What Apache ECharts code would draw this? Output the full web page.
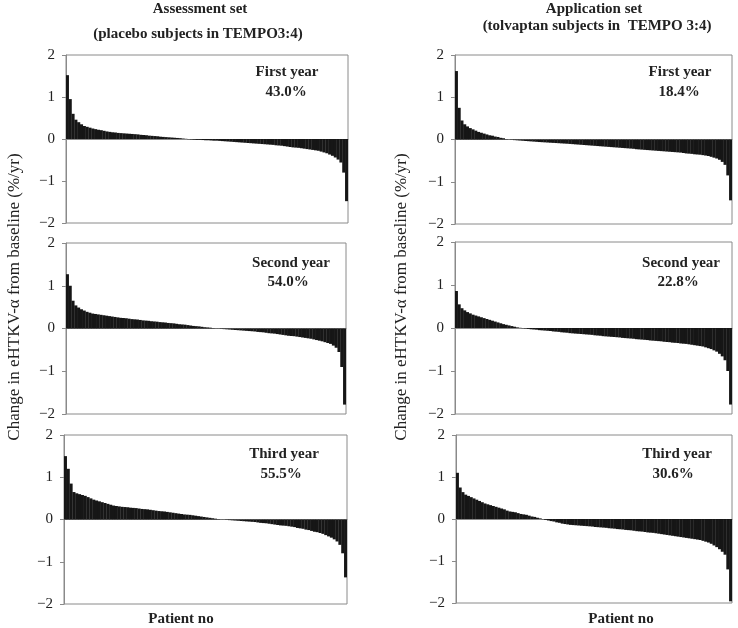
<!DOCTYPE html>
<html><head><meta charset="utf-8">
<script src="https://cdn.jsdelivr.net/npm/echarts@6/dist/echarts.min.js"></script>
<style>html,body{margin:0;padding:0;background:#fff}#c{width:738px;height:628px}</style>
</head><body><div id="c"></div>
<script>
// Sorted per-patient change values (%/yr)
const assessYear1 = [1.52,0.95,0.6,0.46,0.40,0.35,0.31,0.29,0.27,0.25,
0.235,0.22,0.21,0.195,0.18,0.17,0.16,0.155,0.145,0.14,
0.135,0.13,0.125,0.12,0.115,0.11,0.10,0.095,0.09,0.08,
0.075,0.07,0.065,0.055,0.05,0.045,0.04,0.035,0.03,0.025,
0.02,0.012,0.005,-0.005,-0.01,-0.015,-0.02,-0.02,-0.025,-0.03,
-0.03,-0.035,-0.04,-0.04,-0.045,-0.05,-0.055,-0.06,-0.065,-0.07,
-0.075,-0.08,-0.085,-0.09,-0.095,-0.10,-0.105,-0.11,-0.115,-0.12,
-0.125,-0.13,-0.135,-0.14,-0.15,-0.155,-0.16,-0.17,-0.18,-0.19,
-0.20,-0.205,-0.21,-0.22,-0.23,-0.24,-0.25,-0.26,-0.27,-0.28,
-0.30,-0.32,-0.34,-0.37,-0.40,-0.44,-0.49,-0.56,-0.80,-1.48];

const assessYear2 = [1.27,1.0,0.65,0.54,0.49,0.45,0.42,0.39,0.37,0.35,
0.34,0.33,0.32,0.31,0.30,0.29,0.28,0.27,0.26,0.25,
0.245,0.24,0.23,0.22,0.215,0.21,0.20,0.19,0.185,0.18,
0.17,0.165,0.16,0.15,0.145,0.14,0.13,0.125,0.12,0.11,
0.10,0.095,0.09,0.08,0.07,0.06,0.055,0.05,0.04,0.03,
0.025,0.02,0.01,0.005,-0.005,-0.01,-0.015,-0.02,-0.025,-0.03,
-0.035,-0.04,-0.045,-0.05,-0.055,-0.06,-0.065,-0.07,-0.08,-0.085,
-0.09,-0.10,-0.11,-0.115,-0.12,-0.13,-0.14,-0.15,-0.16,-0.17,
-0.175,-0.18,-0.19,-0.20,-0.21,-0.22,-0.23,-0.24,-0.255,-0.27,
-0.285,-0.30,-0.32,-0.34,-0.36,-0.40,-0.45,-0.55,-0.90,-1.78];

const assessYear3 = [1.5,1.2,0.85,0.65,0.62,0.60,0.58,0.56,0.53,0.50,
0.47,0.45,0.43,0.41,0.39,0.37,0.35,0.33,0.32,0.31,
0.30,0.295,0.29,0.28,0.275,0.27,0.26,0.25,0.245,0.24,
0.23,0.22,0.21,0.20,0.195,0.19,0.18,0.17,0.16,0.15,
0.14,0.13,0.12,0.115,0.11,0.10,0.09,0.08,0.07,0.06,
0.05,0.04,0.03,0.02,0.01,0.005,-0.005,-0.01,-0.015,-0.02,
-0.025,-0.03,-0.035,-0.04,-0.045,-0.05,-0.055,-0.06,-0.07,-0.08,
-0.085,-0.09,-0.10,-0.11,-0.12,-0.13,-0.14,-0.145,-0.15,-0.16,
-0.17,-0.18,-0.20,-0.21,-0.22,-0.24,-0.25,-0.27,-0.29,-0.30,
-0.32,-0.34,-0.37,-0.40,-0.43,-0.47,-0.52,-0.60,-0.80,-1.37];

const applYear1 = [1.62,0.75,0.45,0.36,0.31,0.27,0.24,0.21,0.18,0.16,
0.14,0.12,0.10,0.09,0.07,0.06,0.04,0.03,0.01,-0.005,
-0.01,-0.015,-0.02,-0.025,-0.03,-0.035,-0.04,-0.045,-0.05,-0.055,
-0.06,-0.064,-0.068,-0.072,-0.076,-0.08,-0.084,-0.088,-0.092,-0.096,
-0.10,-0.105,-0.11,-0.115,-0.12,-0.125,-0.13,-0.135,-0.14,-0.145,
-0.15,-0.155,-0.16,-0.165,-0.17,-0.175,-0.18,-0.185,-0.19,-0.195,
-0.20,-0.205,-0.21,-0.215,-0.22,-0.23,-0.235,-0.24,-0.245,-0.25,
-0.255,-0.26,-0.265,-0.27,-0.275,-0.28,-0.285,-0.29,-0.295,-0.30,
-0.305,-0.31,-0.32,-0.33,-0.335,-0.34,-0.35,-0.355,-0.36,-0.37,
-0.38,-0.39,-0.41,-0.43,-0.45,-0.48,-0.53,-0.60,-0.85,-1.44];

const applYear2 = [0.86,0.55,0.46,0.41,0.37,0.34,0.31,0.29,0.27,0.25,
0.23,0.21,0.19,0.17,0.15,0.13,0.11,0.09,0.075,0.06,
0.045,0.03,0.015,0.005,-0.005,-0.01,-0.02,-0.03,-0.035,-0.04,
-0.05,-0.055,-0.06,-0.065,-0.07,-0.08,-0.085,-0.09,-0.10,-0.105,
-0.11,-0.12,-0.125,-0.13,-0.135,-0.14,-0.145,-0.15,-0.155,-0.16,
-0.17,-0.175,-0.18,-0.19,-0.195,-0.20,-0.205,-0.21,-0.215,-0.22,
-0.23,-0.235,-0.24,-0.245,-0.25,-0.26,-0.265,-0.27,-0.275,-0.28,
-0.29,-0.295,-0.30,-0.305,-0.31,-0.32,-0.325,-0.33,-0.34,-0.345,
-0.35,-0.36,-0.365,-0.37,-0.38,-0.39,-0.40,-0.41,-0.42,-0.43,
-0.45,-0.47,-0.49,-0.52,-0.55,-0.60,-0.66,-0.75,-1.00,-1.78];

const applYear3 = [1.10,0.75,0.64,0.58,0.55,0.52,0.49,0.46,0.43,0.40,
0.37,0.35,0.33,0.31,0.29,0.27,0.25,0.23,0.20,0.18,
0.17,0.16,0.14,0.12,0.11,0.10,0.08,0.06,0.05,0.03,
0.015,-0.005,-0.02,-0.035,-0.05,-0.06,-0.08,-0.09,-0.11,-0.12,
-0.13,-0.14,-0.145,-0.15,-0.155,-0.16,-0.165,-0.17,-0.175,-0.18,
-0.19,-0.195,-0.20,-0.205,-0.21,-0.22,-0.225,-0.23,-0.24,-0.245,
-0.25,-0.26,-0.265,-0.27,-0.28,-0.29,-0.295,-0.30,-0.31,-0.32,
-0.325,-0.33,-0.34,-0.35,-0.36,-0.37,-0.38,-0.39,-0.40,-0.41,
-0.42,-0.43,-0.44,-0.45,-0.46,-0.47,-0.48,-0.49,-0.50,-0.52,
-0.54,-0.56,-0.59,-0.63,-0.67,-0.72,-0.78,-0.85,-1.20,-1.96];

const yearLabels = ['First year','Second year','Third year'];
const assessPct = ['43.0%','54.0%','55.5%'];
const applPct = ['18.4%','22.8%','30.6%'];
const yTicks = {min:-2, max:2, interval:1};

const SERIF = '"Liberation Serif","Times New Roman",serif';
const TXT = '#222';
const AX = '#8a8a8a';

const panels = [
  {data:assessYear1, grid:{left:66,top:55,width:282,height:168}, yl:[287,72], pl:[286,92], year:yearLabels[0], pct:assessPct[0]},
  {data:assessYear2, grid:{left:66,top:243,width:280,height:171}, yl:[291,263], pl:[288,282], year:yearLabels[1], pct:assessPct[1]},
  {data:assessYear3, grid:{left:64,top:435,width:283,height:169}, yl:[284,454], pl:[281,474], year:yearLabels[2], pct:assessPct[2]},
  {data:applYear1, grid:{left:455,top:55,width:277,height:169}, yl:[680,72], pl:[679,92], year:yearLabels[0], pct:applPct[0]},
  {data:applYear2, grid:{left:455,top:242,width:277,height:172}, yl:[681,263], pl:[678,282], year:yearLabels[1], pct:applPct[1]},
  {data:applYear3, grid:{left:456,top:435,width:276,height:168}, yl:[677,454], pl:[673,474], year:yearLabels[2], pct:applPct[2]}
];

const grids=[], xAxes=[], yAxes=[], series=[], graphics=[];
function txt(x,y,text,bold,size,rot){
  const g={type:'text', x:x, y:y, silent:true,
    style:{text:text, align:'center', verticalAlign:'middle', fill:TXT,
      font:(bold?'bold ':'')+size+'px '+SERIF}};
  if(rot) g.rotation=rot;
  return g;
}
panels.forEach((p,i)=>{
  grids.push(Object.assign({show:true, borderColor:AX, borderWidth:1, backgroundColor:'#fff'}, p.grid));
  xAxes.push({type:'category', gridIndex:i, data:p.data.map((_,k)=>k+1), boundaryGap:true,
    axisLine:{show:true, onZero:true, lineStyle:{color:AX, width:1}},
    axisTick:{show:false}, axisLabel:{show:false}, splitLine:{show:false}});
  yAxes.push({type:'value', gridIndex:i, min:yTicks.min, max:yTicks.max, interval:yTicks.interval,
    axisLine:{show:true, lineStyle:{color:AX}},
    axisTick:{show:true, length:4, lineStyle:{color:AX}},
    splitLine:{show:false},
    axisLabel:{color:TXT, fontFamily:SERIF, fontSize:15, margin:11,
      formatter:v=>String(v).replace('-','\u2212')}});
  series.push({type:'bar', xAxisIndex:i, yAxisIndex:i, data:p.data, barWidth:3.1,
    itemStyle:{color:'#161616'}, silent:true, z:1});
  graphics.push(txt(p.yl[0],p.yl[1],p.year,true,15));
  graphics.push(txt(p.pl[0],p.pl[1],p.pct,true,15));
});
graphics.push(txt(200,9,'Assessment set',true,15));
graphics.push(txt(198,34,'(placebo subjects in TEMPO3:4)',true,15));
graphics.push(txt(594,9,'Application set',true,15));
graphics.push(txt(597,26,'(tolvaptan subjects in  TEMPO 3:4)',true,15));
graphics.push(txt(181,619,'Patient no',true,15));
graphics.push(txt(621,619,'Patient no',true,15));
graphics.push(txt(15,297,'Change in eHTKV-\u03B1 from baseline (%/yr)',false,17,Math.PI/2));
graphics.push(txt(402,297,'Change in eHTKV-\u03B1 from baseline (%/yr)',false,17,Math.PI/2));

const chart = echarts.init(document.getElementById('c'), null, {renderer:'canvas'});
chart.setOption({animation:false, backgroundColor:'#fff', grid:grids, xAxis:xAxes, yAxis:yAxes, series:series, graphic:graphics});
</script></body></html>
